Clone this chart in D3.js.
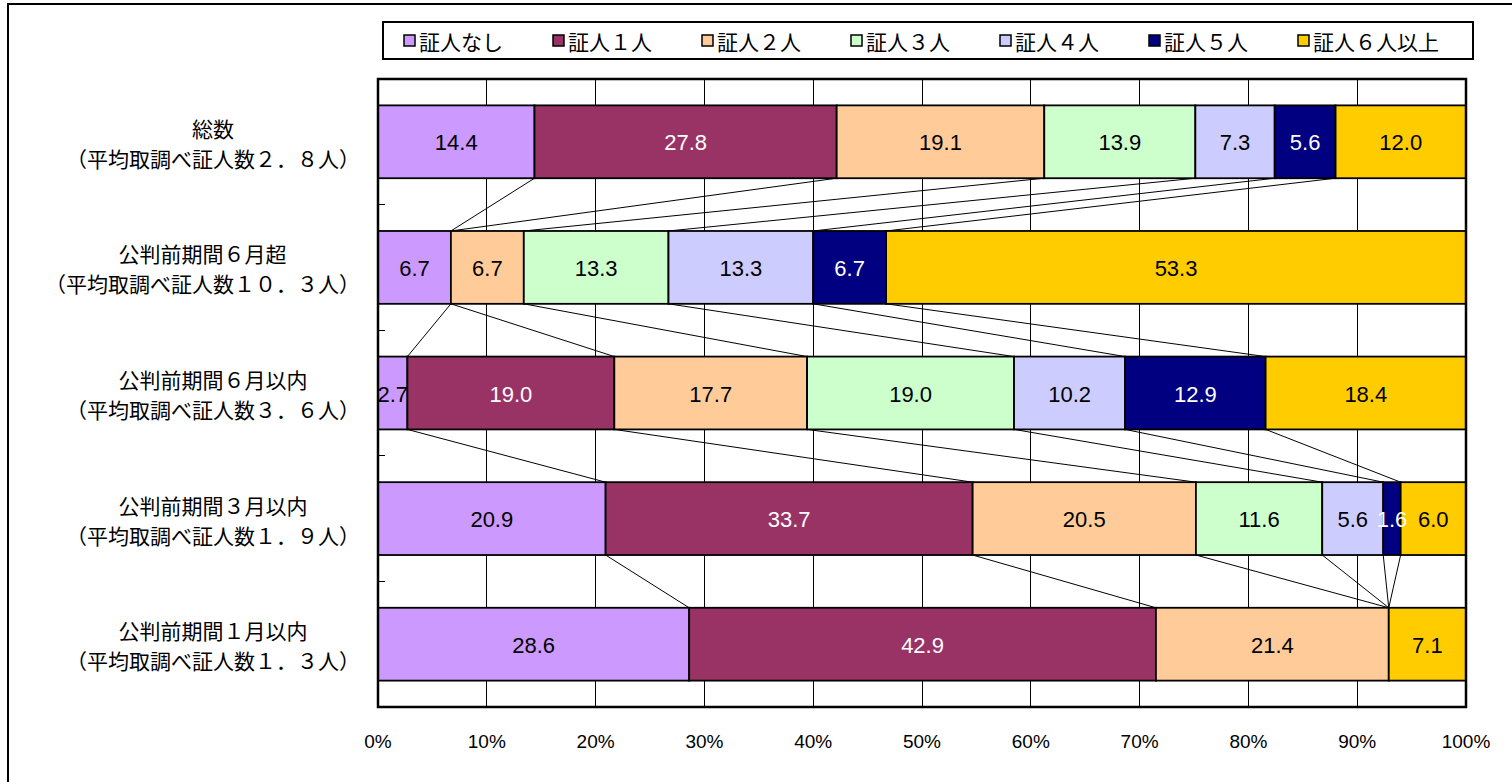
<!DOCTYPE html>
<html><head><meta charset="utf-8">
<script src="https://cdn.jsdelivr.net/npm/d3@7"></script>
<style>
html,body{margin:0;padding:0;background:#fff;overflow:hidden;}
.jp{font-family:"Noto Sans CJK JP","Noto Sans",sans-serif;}
.num{font-family:"Liberation Sans Narrow","Liberation Sans",Arial,sans-serif;font-stretch:condensed;}
</style></head>
<body>
<svg id="chart" width="1512" height="782"></svg>
<script>
// ---- data ----
const catLine1 = ["総数", "公判前期間６月超", "公判前期間６月以内", "公判前期間３月以内", "公判前期間１月以内"];
const catLine2 = ["（平均取調べ証人数２．８人）", "（平均取調べ証人数１０．３人）", "（平均取調べ証人数３．６人）", "（平均取調べ証人数１．９人）", "（平均取調べ証人数１．３人）"];
const seriesNames = ["証人なし", "証人１人", "証人２人", "証人３人", "証人４人", "証人５人", "証人６人以上"];
const s0 = [14.4, 6.7, 2.7, 20.9, 28.6];
const s1 = [27.8, 0, 19.0, 33.7, 42.9];
const s2 = [19.1, 6.7, 17.7, 20.5, 21.4];
const s3 = [13.9, 13.3, 19.0, 11.6, 0];
const s4 = [7.3, 13.3, 10.2, 5.6, 0];
const s5 = [5.6, 6.7, 12.9, 1.6, 0];
const s6 = [12.0, 53.3, 18.4, 6.0, 7.1];
const seriesValues = [s0, s1, s2, s3, s4, s5, s6];
const xTicks = [0, 10, 20, 30, 40, 50, 60, 70, 80, 90, 100];
const colors = ["#CC99FF", "#993366", "#FFCC99", "#CCFFCC", "#CCCCFF", "#000080", "#FFCC00"];
const whiteText = [false, true, false, false, false, true, false];

// ---- layout ----
const svg = d3.select("#chart");
const plot = {x0: 378, x1: 1466, y0: 79, y1: 707};

// outer frame
svg.append("rect").attr("x", 8).attr("y", 4).attr("width", 1600).attr("height", 900)
  .attr("fill", "none").attr("stroke", "#000").attr("stroke-width", 2);

const x = d3.scaleLinear().domain([0, 100]).range([plot.x0, plot.x1]);
const y = d3.scaleBand().domain(d3.range(catLine1.length)).range([plot.y0, plot.y1])
  .paddingInner(0.42).paddingOuter(0.21);

// stacked (100% normalized like Excel)
const rows = catLine1.map((c, i) => {
  const vals = seriesValues.map(s => s[i]);
  const tot = d3.sum(vals);
  let acc = 0;
  return vals.map((v, k) => { const a = acc; acc += v / tot * 100; return {i, k, v, a, b: acc}; });
});

// plot background + gridlines
svg.append("rect").attr("x", plot.x0).attr("y", plot.y0).attr("width", plot.x1 - plot.x0)
  .attr("height", plot.y1 - plot.y0).attr("fill", "#fff");
svg.append("g").selectAll("line").data(xTicks.slice(1, -1)).join("line")
  .attr("x1", d => x(d)).attr("x2", d => x(d)).attr("y1", plot.y0).attr("y2", plot.y1)
  .attr("stroke", "#000").attr("stroke-width", 1).attr("shape-rendering", "crispEdges");

// y ticks between categories
svg.append("g").selectAll("line").data(d3.range(1, catLine1.length)).join("line")
  .attr("x1", plot.x0).attr("x2", plot.x0 + 7)
  .attr("y1", d => plot.y0 + d * (plot.y1 - plot.y0) / catLine1.length)
  .attr("y2", d => plot.y0 + d * (plot.y1 - plot.y0) / catLine1.length)
  .attr("stroke", "#000").attr("stroke-width", 1).attr("shape-rendering", "crispEdges");

// series lines
const sl = [];
for (let i = 0; i < rows.length - 1; i++) {
  for (let k = 0; k < seriesNames.length - 1; k++) {
    sl.push({xa: x(rows[i][k].b), ya: y(i) + y.bandwidth(), xb: x(rows[i + 1][k].b), yb: y(i + 1)});
  }
}
svg.append("g").selectAll("line").data(sl).join("line")
  .attr("x1", d => d.xa).attr("y1", d => d.ya).attr("x2", d => d.xb).attr("y2", d => d.yb)
  .attr("stroke", "#000").attr("stroke-width", 1);

// bars
const segs = rows.flat().filter(d => d.v > 0);
svg.append("g").selectAll("rect").data(segs).join("rect")
  .attr("x", d => x(d.a)).attr("y", d => y(d.i)).attr("width", d => x(d.b) - x(d.a))
  .attr("height", y.bandwidth()).attr("fill", d => colors[d.k])
  .attr("stroke", "#000").attr("stroke-width", 1.8);

// bar labels
svg.append("g").selectAll("text").data(segs).join("text").attr("class", "num")
  .attr("x", d => (x(d.a) + x(d.b)) / 2).attr("y", d => y(d.i) + y.bandwidth() / 2 + 1)
  .attr("text-anchor", "middle").attr("dominant-baseline", "central")
  .attr("font-size", 22).attr("fill", d => whiteText[d.k] ? "#fff" : "#000")
  .text(d => d.v.toFixed(1));

// plot border
svg.append("rect").attr("x", plot.x0).attr("y", plot.y0).attr("width", plot.x1 - plot.x0)
  .attr("height", plot.y1 - plot.y0).attr("fill", "none").attr("stroke", "#000").attr("stroke-width", 2.5);

// x tick labels
svg.append("g").selectAll("text").data(xTicks).join("text").attr("class", "num")
  .attr("x", d => x(d)).attr("y", 741).attr("text-anchor", "middle").attr("dominant-baseline", "central")
  .attr("font-size", 19).text(d => d + "%");

// category labels (two centered lines, block right-aligned)
const labelRight = 360;
catLine1.forEach((c, i) => {
  const g = svg.append("g").attr("class", "jp").attr("font-size", 21);
  const cy = y(i) + y.bandwidth() / 2;
  const t1 = g.append("text").attr("y", cy - 14).attr("dominant-baseline", "central").attr("text-anchor", "middle").text(c);
  const t2 = g.append("text").attr("y", cy + 16).attr("dominant-baseline", "central").attr("text-anchor", "middle").text(catLine2[i]);
  const w = Math.max(t1.node().getComputedTextLength(), t2.node().getComputedTextLength());
  t1.attr("x", labelRight - w / 2); t2.attr("x", labelRight - w / 2);
});

// legend
const lg = svg.append("g");
lg.append("rect").attr("x", 383).attr("y", 22).attr("width", 1090).attr("height", 37)
  .attr("fill", "#fff").attr("stroke", "#000").attr("stroke-width", 2);
const lx = d3.scalePoint().domain(d3.range(seriesNames.length)).range([404, 1298]);
const items = lg.selectAll("g").data(seriesNames).join("g")
  .attr("transform", (d, k) => `translate(${lx(k)},41)`);
items.append("rect").attr("x", 0).attr("y", -6).attr("width", 11).attr("height", 11)
  .attr("fill", (d, k) => colors[k]).attr("stroke", "#000").attr("stroke-width", 1.5);
items.append("text").attr("class", "jp").attr("x", 15).attr("y", 0).attr("dominant-baseline", "central")
  .attr("font-size", 21).text(d => d);
</script>
</body></html>
